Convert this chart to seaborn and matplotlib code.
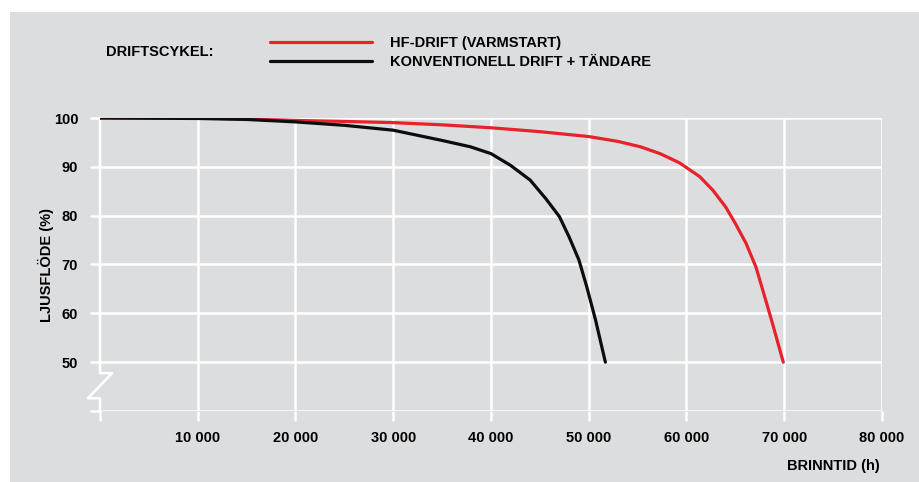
import numpy as np
import pandas as pd
import matplotlib.pyplot as plt
import seaborn as sns
from matplotlib.patches import Rectangle

hf_hours = [0, 10000, 15000, 20000, 25000, 30000, 35000, 40000, 45000, 50000, 53000, 55300,
            57300, 59300, 61350, 62700, 64000, 65000, 66100, 67100, 67900, 68800, 69900]
hf_flux = [100, 100, 99.8, 99.5, 99.3, 99.05, 98.6, 98.0, 97.2, 96.2, 95.2, 94.1,
           92.7, 90.8, 88.0, 85.2, 81.8, 78.4, 74.3, 69.5, 64.1, 57.9, 50]

konv_hours = [0, 10000, 15000, 20000, 25000, 30000, 35000, 37900, 40000, 42000, 44000, 45600,
              47000, 48000, 49000, 49800, 50700, 51700]
konv_flux = [100, 99.9, 99.7, 99.2, 98.5, 97.5, 95.4, 94.1, 92.7, 90.3, 87.3, 83.5,
             79.8, 75.6, 70.9, 65.4, 58.6, 50]

series_names = ['HF-DRIFT (VARMSTART)', 'KONVENTIONELL DRIFT + TÄNDARE']
series_colors = ['#e8212b', '#0d0d0d']

x_ticks = [0, 10000, 20000, 30000, 40000, 50000, 60000, 70000, 80000]
x_labels = ['', '10 000', '20 000', '30 000', '40 000', '50 000', '60 000', '70 000', '80 000']
y_ticks = [40, 50, 60, 70, 80, 90, 100]
y_labels = ['', '50', '60', '70', '80', '90', '100']

df = pd.concat([
    pd.DataFrame({'tid': hf_hours, 'flode': hf_flux, 'drift': series_names[0]}),
    pd.DataFrame({'tid': konv_hours, 'flode': konv_flux, 'drift': series_names[1]}),
])

sns.set_theme(style='white')
plt.rcParams['font.family'] = ['Liberation Sans', 'DejaVu Sans']
plt.rcParams['font.weight'] = 'bold'
plt.rcParams['text.color'] = 'black'
fs = 10.5

bg = '#dcdddf'
W, H = 920, 482
fig = plt.figure(figsize=(9.2, 4.82), dpi=100, facecolor='white')
fig.patches.append(Rectangle((10 / W, 0), 910 / W, 1 - 12 / H, transform=fig.transFigure,
                             facecolor=bg, edgecolor='none', zorder=-1))

ax = fig.add_axes([100 / W, 1 - 411 / H, 782 / W, (411 - 118) / H])
ax.set_zorder(2)
ax.set_facecolor(bg)

sns.lineplot(data=df, x='tid', y='flode', hue='drift', palette=dict(zip(series_names, series_colors)),
             linewidth=2.3, ax=ax, zorder=5)

ax.set_xlim(0, 80000)
ax.set_ylim(40, 100)
ax.set_xticks(x_ticks)
ax.set_xticklabels(x_labels, fontsize=fs, fontweight='bold')
ax.set_yticks(y_ticks)
ax.set_yticklabels(y_labels, fontsize=fs, fontweight='bold')
ax.tick_params(axis='both', colors='white', labelcolor='black', length=7.2, width=1.8, direction='out')
ax.tick_params(axis='x', pad=7)
ax.tick_params(axis='y', pad=8.5)
ax.xaxis.set_ticks_position('bottom')
ax.yaxis.set_ticks_position('left')
ax.grid(True, color='white', linewidth=1.8)
ax.get_xgridlines()[0].set_visible(False)
for s in ax.spines.values():
    s.set_visible(False)
ax.set_xlabel('')
ax.set_ylabel('')

# axis break on the left
ax.plot([0, 0, 1230, -1230, 0, 0], [100, 47.75, 47.75, 42.6, 42.6, 40],
        color='white', linewidth=1.8, clip_on=False, zorder=2)

handles, labels = ax.get_legend_handles_labels()
ax.get_legend().remove()
fig.legend(handles, labels, loc='upper left', bbox_to_anchor=(270 / W, 1 - 36 / H),
           frameon=False, borderpad=0, borderaxespad=0, handlelength=7.0, handletextpad=1.2,
           labelspacing=0.36, prop={'weight': 'bold', 'size': fs})

fig.text(106 / W, 1 - 52 / H, 'DRIFTSCYKEL:', fontsize=fs, fontweight='bold', ha='left', va='center')
fig.text(46 / W, 1 - 265 / H, 'LJUSFLÖDE (%)', fontsize=fs, fontweight='bold', rotation=90,
         ha='center', va='center')
fig.text(880 / W, 1 - 466 / H, 'BRINNTID (h)', fontsize=fs, fontweight='bold', ha='right', va='center')

plt.savefig('out.png', dpi=100, facecolor=fig.get_facecolor())
